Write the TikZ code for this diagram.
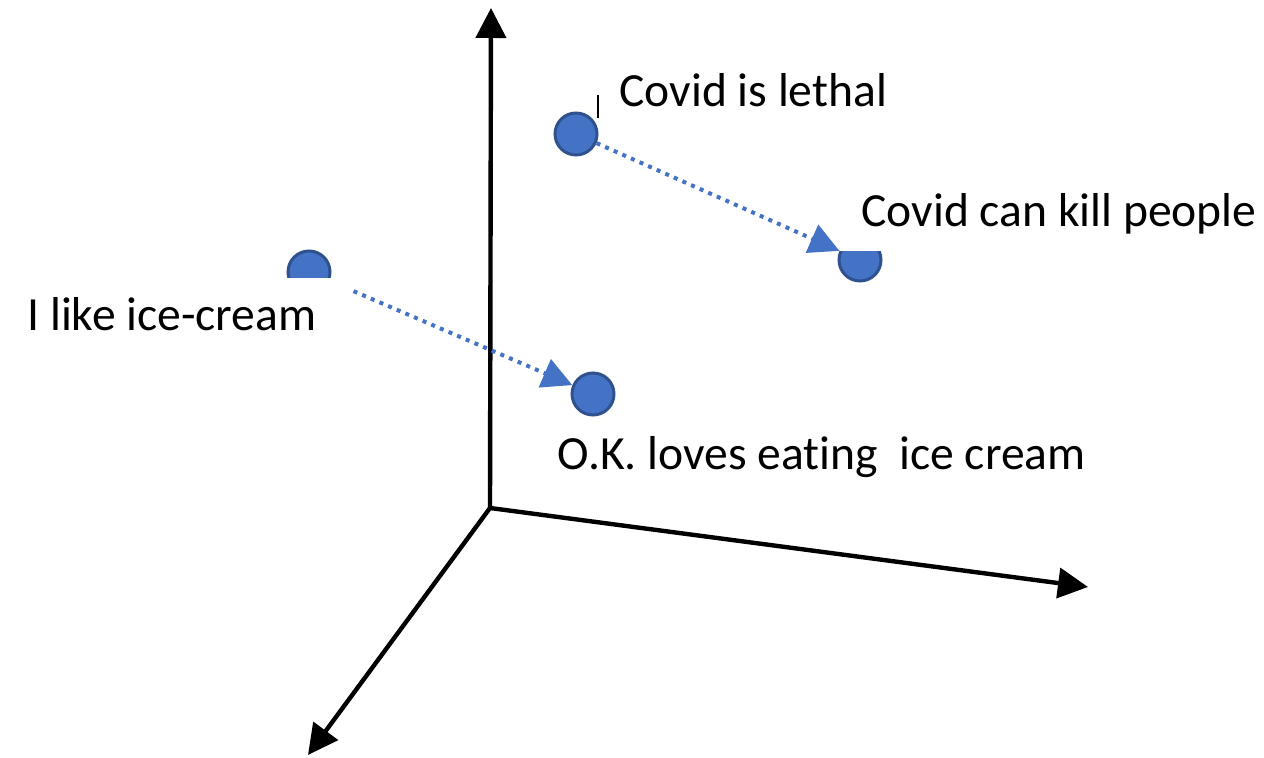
\documentclass[tikz,border=0pt]{standalone}
\usepackage{fontspec}
\setmainfont{Carlito}[Ligatures=NoCommon]
\usetikzlibrary{arrows.meta}
\definecolor{puntoblu}{HTML}{4472C4}
\definecolor{bordoblu}{HTML}{2F528F}

\begin{document}
\begin{tikzpicture}[x=0.5pt, y=-0.5pt, >={Triangle[length=15pt,width=15pt]}]
\useasboundingbox (0,0) rectangle (1264,758);
\tikzset{
  punto/.style={circle, fill=puntoblu, draw=bordoblu, line width=1.5pt,
                minimum size=21pt, inner sep=0pt},
  freccia/.style={puntoblu, line width=2pt, dash pattern={on 2pt off 2.7pt},
                  -{Triangle[length=15pt,width=15pt]}},
  etichetta/.style={font=\fontsize{23.8pt}{28pt}\selectfont, inner sep=0pt, anchor=base west},
}

% Assi
\coordinate (O) at (490,508);
\coordinate (Zfine) at (491,8);
\coordinate (Xfine) at (1088,587);
\coordinate (Yfine) at (308,755);
\draw[->, line width=2.2pt] (O) -- (Zfine);
\draw[->, line width=2.2pt] (O) -- (Xfine);
\draw[->, line width=2.2pt] (O) -- (Yfine);

% Punti (frasi)
\node[punto] (letale) at (576,134) {};
\begin{scope}
  \clip (820,252) rectangle (900,300);
  \node[punto] (uccide) at (860,260) {};
\end{scope}
\begin{scope}
  \clip (250,240) rectangle (370,278);
  \node[punto] (gelato) at (309,272) {};
\end{scope}
\node[punto] (mangia) at (593,394) {};

% Frecce tratteggiate
\draw[freccia] (letale) -- (uccide);
\draw[freccia, shorten <=13pt] (gelato) -- (mangia);

% Etichette
\draw[line width=0.8pt] (598,95) -- (598,118);
\node[etichetta] (tletale) at (619,107) {Covid is lethal};
\node[etichetta] (tuccide) at (861,227) {Covid can kill people};
\node[etichetta] (tgelato) at (27,331) {I like ice-cream};
\node[etichetta] (tmangia) at (557,470) {O.K. loves eating\ \ ice cream};

\end{tikzpicture}
\end{document}
